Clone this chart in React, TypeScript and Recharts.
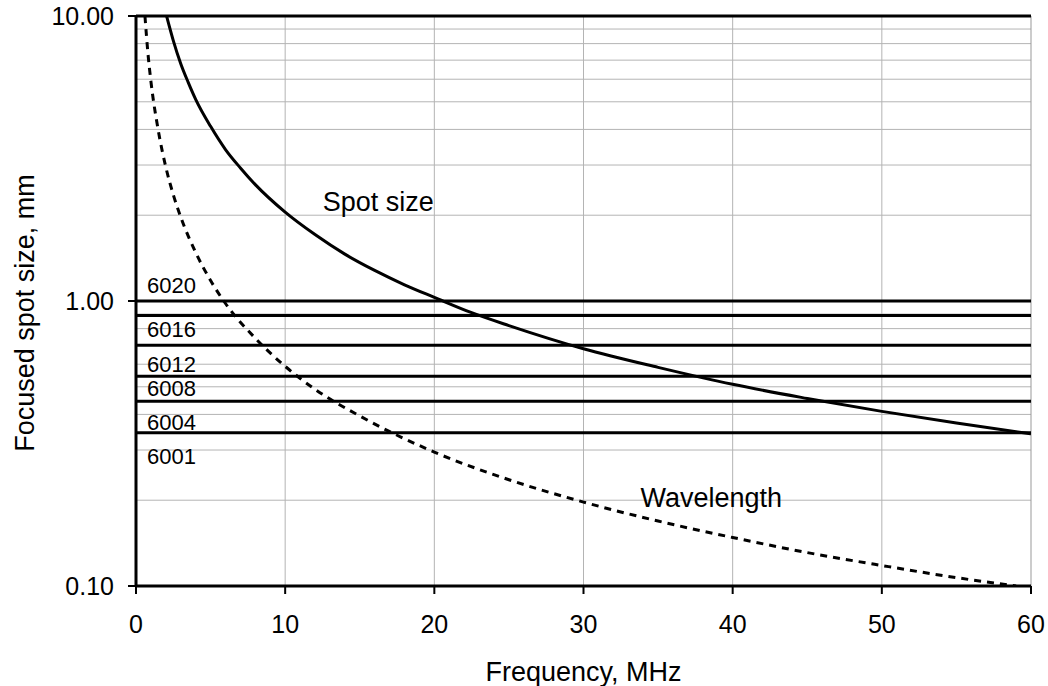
import { LineChart, Line, XAxis, YAxis, ReferenceLine, ReferenceDot } from 'recharts'

// focused spot size (solid)
const spotFreq = [2.05, 2.5, 3, 3.5, 4, 5, 6, 7, 8, 10, 12, 14, 16, 18, 20, 22.5, 25, 30, 35, 40, 45, 50, 55, 60]
const spotSize = [10, 8.2, 6.8, 5.85, 5.1, 4.1, 3.4, 2.93, 2.56, 2.05, 1.71, 1.46, 1.28, 1.14, 1.03, 0.91, 0.82, 0.68, 0.585, 0.51, 0.455, 0.41, 0.373, 0.342]

// wavelength (dashed)
const waveFreq = [0.6, 0.8, 1, 1.5, 2, 2.5, 3, 4, 5, 6, 8, 10, 12, 15, 20, 25, 30, 35, 40, 45, 50, 55, 59]
const waveLen = [10, 7.4, 5.9, 3.95, 2.95, 2.36, 1.97, 1.48, 1.18, 0.98, 0.74, 0.59, 0.49, 0.395, 0.295, 0.236, 0.197, 0.169, 0.148, 0.131, 0.118, 0.107, 0.1]

// horizontal model lines and their labels
const modelLines = [1.0, 0.89, 0.7, 0.545, 0.445, 0.345]
const modelNames = ['6020', '6016', '6012', '6008', '6004', '6001']
const modelLabelY = [1.14, 0.794, 0.6, 0.496, 0.375, 0.285]

const xTicks = [0, 10, 20, 30, 40, 50, 60]
const yTicks = [0.1, 1, 10]
const minorGrid = [0.2, 0.3, 0.4, 0.5, 0.6, 0.7, 0.8, 0.9, 2, 3, 4, 5, 6, 7, 8, 9]
const verticalGrid = [10, 20, 30, 40, 50]

const spotData = spotFreq.map((f, i) => ({ f, v: spotSize[i] }))
const waveData = waveFreq.map((f, i) => ({ f, v: waveLen[i] }))

const FONT = '"Liberation Sans", Arial, sans-serif'
const GRID = '#b4b4b4'

function YTitle(props: any) {
  const { x, y, height } = props.viewBox
  const cx = x + 25
  const cy = y + height / 2 + 12
  return (
    <text
      x={cx}
      y={cy}
      transform={`rotate(-90, ${cx}, ${cy})`}
      textAnchor="middle"
      dominantBaseline="central"
      fontSize={27}
      fill="#000"
    >
      Focused spot size, mm
    </text>
  )
}

function XTitle(props: any) {
  const { x, y, width, height } = props.viewBox
  return (
    <text x={x + width / 2} y={y + height - 5} textAnchor="middle" fontSize={27} fill="#000">
      Frequency, MHz
    </text>
  )
}

export default function App() {
  return (
    <div style={{ position: 'absolute', left: 0, top: 0, fontFamily: FONT, background: '#fff' }}>
      <LineChart width={1048} height={686} margin={{ top: 16, right: 17, left: 0, bottom: 0 }}>
        <XAxis
          dataKey="f"
          type="number"
          domain={[0, 60]}
          ticks={xTicks}
          allowDataOverflow
          height={100}
          tickSize={8}
          tickMargin={21}
          tick={{ fontSize: 25, fill: '#000' }}
          axisLine={{ stroke: '#000', strokeWidth: 3 }}
          tickLine={{ stroke: '#000', strokeWidth: 2 }}
          label={XTitle}
        />
        <YAxis
          dataKey="v"
          scale="log"
          domain={[0.1, 10]}
          ticks={yTicks}
          allowDataOverflow
          width={136}
          tickSize={8}
          tickMargin={14}
          tickFormatter={(v: number) => v.toFixed(2)}
          tick={{ fontSize: 25, fill: '#000' }}
          axisLine={{ stroke: '#000', strokeWidth: 3 }}
          tickLine={{ stroke: '#000', strokeWidth: 2 }}
          label={YTitle}
        />

        {/* minor log grid */}
        {minorGrid.map((v) => (
          <ReferenceLine key={'h' + v} y={v} stroke={GRID} strokeWidth={1} />
        ))}
        {verticalGrid.map((v) => (
          <ReferenceLine key={'v' + v} x={v} stroke={GRID} strokeWidth={1} />
        ))}
        <ReferenceLine x={60} stroke="#999" strokeWidth={1} />
        <ReferenceLine y={10} stroke="#000" strokeWidth={3} />

        {/* model lines */}
        {modelLines.map((v) => (
          <ReferenceLine key={'m' + v} y={v} stroke="#000" strokeWidth={3} />
        ))}
        {modelNames.map((name, i) => (
          <ReferenceDot
            key={name}
            x={0}
            y={modelLabelY[i]}
            r={1}
            fill="none"
            stroke="none"
            label={{ value: name, position: 'right', offset: 10, fontSize: 22, fill: '#000' }}
          />
        ))}

        <ReferenceDot
          x={12.45}
          y={2.24}
          r={1}
          fill="none"
          stroke="none"
          label={{ value: 'Spot size', position: 'right', offset: 0, fontSize: 27, fill: '#000' }}
        />
        <ReferenceDot
          x={33.75}
          y={0.205}
          r={1}
          fill="none"
          stroke="none"
          label={{ value: 'Wavelength', position: 'right', offset: 0, fontSize: 27, fill: '#000' }}
        />

        <Line
          data={waveData}
          dataKey="v"
          type="monotone"
          stroke="#000"
          strokeWidth={3}
          strokeDasharray="7 6"
          dot={false}
          activeDot={false}
          isAnimationActive={false}
        />
        <Line
          data={spotData}
          dataKey="v"
          type="monotone"
          stroke="#000"
          strokeWidth={3}
          dot={false}
          activeDot={false}
          isAnimationActive={false}
        />
      </LineChart>
    </div>
  )
}
